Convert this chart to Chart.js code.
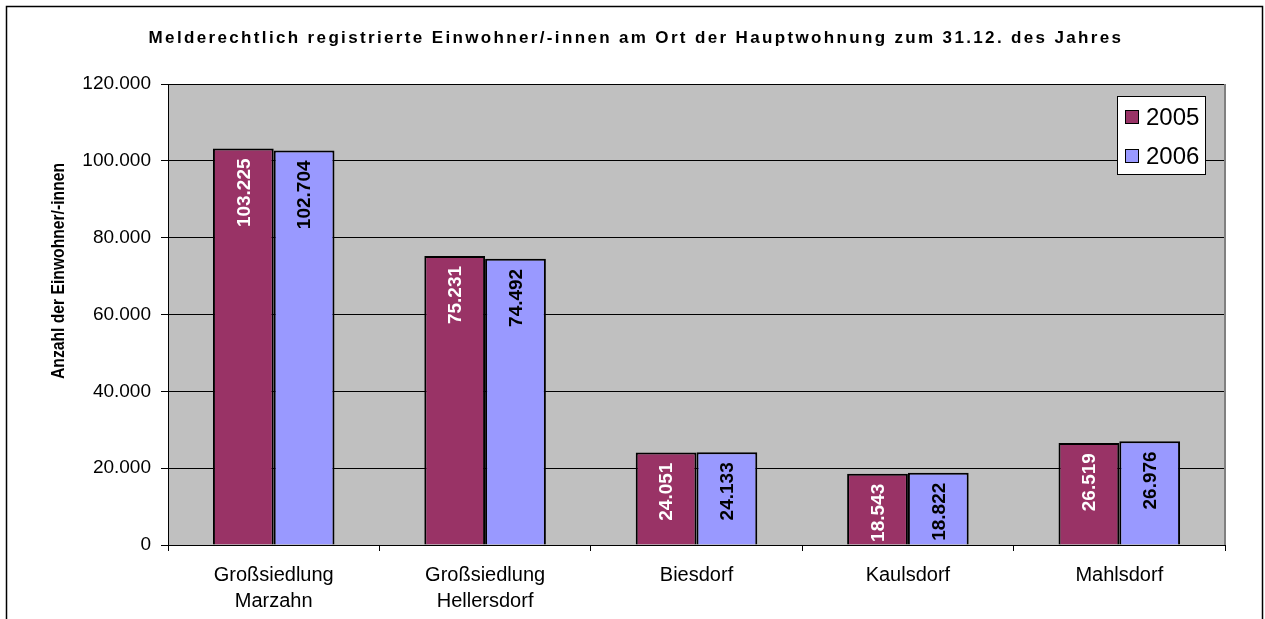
<!DOCTYPE html>
<html>
<head>
<meta charset="utf-8">
<script src="https://cdn.jsdelivr.net/npm/chart.js@4/dist/chart.umd.min.js"></script>
<style>
  html, body { margin: 0; padding: 0; background: #ffffff; }
  #wrap { position: relative; width: 1265px; height: 619px; }
</style>
</head>
<body>
<div id="wrap"><canvas id="c" width="1265" height="619"></canvas></div>
<script>
const chartTitle = 'Melderechtlich registrierte Einwohner/-innen am Ort der Hauptwohnung zum 31.12. des Jahres';
const yAxisTitle = 'Anzahl der Einwohner/-innen';
const categories = [['Großsiedlung', 'Marzahn'], ['Großsiedlung', 'Hellersdorf'], 'Biesdorf', 'Kaulsdorf', 'Mahlsdorf'];
const seriesNames = ['2005', '2006'];
const values2005 = [103225, 75231, 24051, 18543, 26519];
const values2006 = [102704, 74492, 24133, 18822, 26976];
const yMin = 0, yMax = 120000, yStep = 20000;

const FONT = "'Liberation Sans', Arial, sans-serif";
const fmt = v => Number(v).toLocaleString('de-DE');

const decorPlugin = {
  id: 'decor',
  beforeDraw(chart) {
    const { ctx, chartArea: a } = chart;
    ctx.save();
    ctx.fillStyle = '#C0C0C0';
    ctx.fillRect(a.left, a.top, a.right - a.left, a.bottom - a.top);
    ctx.strokeStyle = '#000000';
    ctx.lineWidth = 1.5;
    ctx.strokeRect(6.5, 6.5, 1256, 700);
    ctx.restore();
  },
  afterDraw(chart) {
    const { ctx, chartArea: a } = chart;
    ctx.save();
    ctx.strokeStyle = '#808080';
    ctx.lineWidth = 2;
    ctx.beginPath();
    ctx.moveTo(a.right, a.top);
    ctx.lineTo(a.right, a.bottom);
    ctx.stroke();
    // title
    ctx.fillStyle = '#000000';
    ctx.font = 'bold 17px ' + FONT;
    ctx.letterSpacing = '2.35px';
    ctx.textAlign = 'center';
    ctx.textBaseline = 'alphabetic';
    ctx.fillText(chartTitle, 636, 43);
    ctx.letterSpacing = '0px';
    // y axis title
    ctx.save();
    ctx.font = 'bold 18px ' + FONT;
    const w = ctx.measureText(yAxisTitle).width;
    ctx.translate(59, 271);
    ctx.rotate(-Math.PI / 2);
    ctx.scale(216 / w, 1);
    ctx.textAlign = 'center';
    ctx.textBaseline = 'middle';
    ctx.fillText(yAxisTitle, 0, 0);
    ctx.restore();
    // legend
    const bx = 1117, by = 96, bw = 88, bh = 78;
    ctx.fillStyle = '#FFFFFF';
    ctx.fillRect(bx, by, bw, bh);
    ctx.strokeStyle = '#000000';
    ctx.lineWidth = 1;
    ctx.strokeRect(bx + 0.5, by + 0.5, bw, bh);
    const baselines = [125, 164];
    chart.data.datasets.forEach((ds, i) => {
      const base = baselines[i];
      ctx.fillStyle = ds.backgroundColor;
      ctx.fillRect(1125, base - 15, 14, 14);
      ctx.strokeStyle = '#000000';
      ctx.lineWidth = 1;
      ctx.strokeRect(1125.5, base - 14.5, 13, 13);
      ctx.fillStyle = '#000000';
      ctx.font = '24px ' + FONT;
      ctx.textAlign = 'left';
      ctx.textBaseline = 'alphabetic';
      ctx.fillText(ds.label, 1146, base);
    });
    ctx.restore();
  },
  afterDatasetsDraw(chart) {
    const { ctx, chartArea: a } = chart;
    ctx.save();
    ctx.beginPath();
    ctx.rect(a.left, a.top, a.right - a.left, a.bottom - a.top);
    ctx.clip();
    chart.data.datasets.forEach((ds, di) => {
      const meta = chart.getDatasetMeta(di);
      meta.data.forEach((el, i) => {
        ctx.save();
        ctx.translate(el.x, el.y + 10);
        ctx.rotate(-Math.PI / 2);
        ctx.font = 'bold 19px ' + FONT;
        ctx.fillStyle = ds.labelColor;
        ctx.textAlign = 'right';
        ctx.textBaseline = 'middle';
        ctx.fillText(fmt(ds.data[i]), 0, 1);
        ctx.restore();
      });
    });
    ctx.restore();
  }
};

new Chart(document.getElementById('c'), {
  type: 'bar',
  data: {
    labels: categories,
    datasets: [
      { label: seriesNames[0], data: values2005, backgroundColor: '#993366', borderColor: '#000000', borderWidth: 2, labelColor: '#FFFFFF' },
      { label: seriesNames[1], data: values2006, backgroundColor: '#9999FF', borderColor: '#000000', borderWidth: 2, labelColor: '#000000' }
    ]
  },
  options: {
    responsive: false,
    animation: false,
    devicePixelRatio: 1,
    layout: { padding: { top: 84, right: 40, left: 0, bottom: 0 } },
    datasets: { bar: { categoryPercentage: 0.575, barPercentage: 1.0 } },
    plugins: { legend: { display: false }, title: { display: false }, tooltip: { enabled: false } },
    scales: {
      x: {
        offset: true,
        grid: { display: true, offset: true, drawOnChartArea: false, drawTicks: true, tickLength: 6, color: '#000000', lineWidth: 1 },
        border: { display: true, color: '#000000', width: 1 },
        ticks: { color: '#000000', font: { family: FONT, size: 20, lineHeight: 1.3 }, padding: 11, maxRotation: 0, autoSkip: false },
        afterFit(scale) { scale.height = 74; }
      },
      y: {
        min: yMin, max: yMax,
        grid: { color: '#000000', lineWidth: 1, drawTicks: true, tickLength: 7 },
        border: { display: true, color: '#000000', width: 1 },
        ticks: { stepSize: yStep, color: '#000000', font: { family: FONT, size: 19 }, padding: 10, callback: v => fmt(v) },
        afterFit(scale) { scale.width = 168; }
      }
    }
  },
  plugins: [decorPlugin]
});
</script>
</body>
</html>
